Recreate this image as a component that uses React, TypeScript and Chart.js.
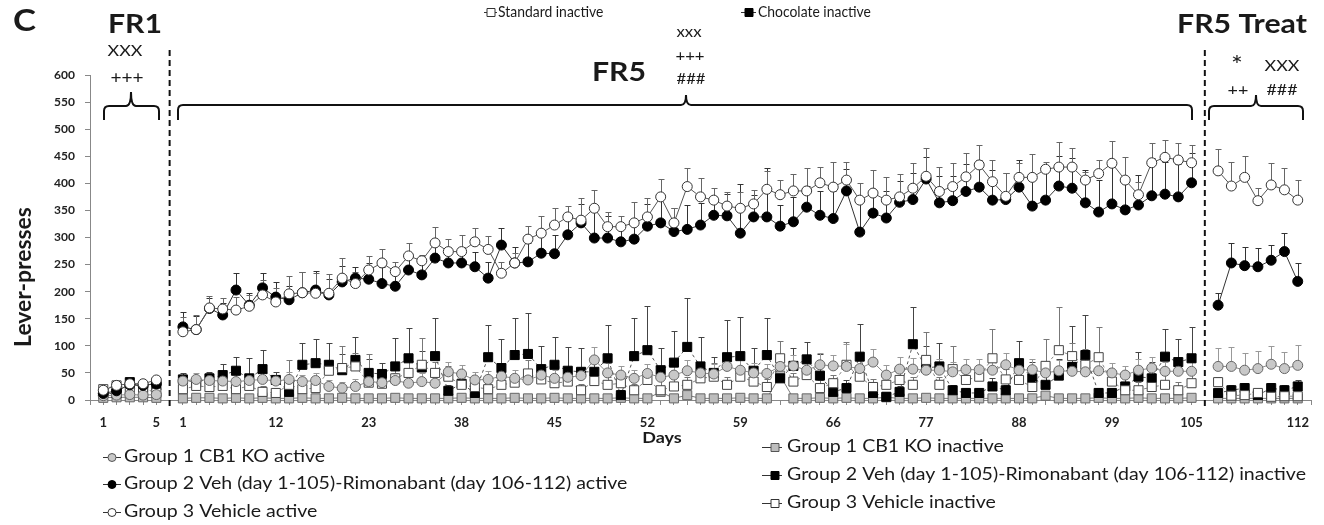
import React, { useEffect, useRef } from "react";
import { Chart, registerables } from "chart.js";

Chart.register(...registerables);

// ---------- tick labels ----------
const fr1Labels = ["1", "", "", "", "5"];
const fr5TickDays = ["1", "12", "23", "38", "45", "52", "59", "66", "77", "88", "99", "105"];
const fr5TickIndex = [0, 7, 14, 21, 28, 35, 42, 49, 56, 63, 70, 76];
const fr5Count = 77;
const treatLabels = ["", "", "", "", "", "", "112"];

// ---------- Group 1 CB1 KO active (grey circles) ----------
const g1ActFr1 = [8, 9, 10, 9, 10];
const g1ActFr5 = [35, 38, 36, 35, 34, 36, 38, 35, 38, 34, 36, 25, 22, 25, 34, 32, 36, 31, 34, 31, 52, 48, 37, 38, 44, 40, 37, 46, 40, 42, 45, 74, 50, 46, 40, 49, 42, 46, 54, 50, 48, 62, 55, 50, 49, 62, 63, 55, 65, 63, 62, 58, 70, 46, 57, 57, 55, 55, 52, 56, 56, 55, 65, 55, 56, 50, 54, 53, 52, 54, 50, 46, 55, 59, 53, 53, 53];
const g1ActTreat = [62, 62, 55, 58, 66, 58, 64];
const g1ActErrFr1 = [4, 4, 4, 4, 4];
const g1ActErrFr5 = [12, 12, 14, 12, 14, 12, 15, 12, 14, 12, 14, 12, 12, 14, 15, 12, 14, 12, 15, 14, 18, 16, 14, 15, 16, 15, 14, 18, 16, 15, 16, 24, 18, 16, 15, 18, 16, 18, 20, 18, 18, 22, 20, 18, 18, 22, 20, 18, 22, 20, 42, 20, 24, 18, 22, 20, 20, 20, 18, 20, 20, 20, 22, 20, 20, 18, 20, 18, 18, 20, 18, 16, 20, 20, 18, 18, 18];
const g1ActErrTreat = [34, 36, 32, 32, 34, 31, 37];

// ---------- Group 2 Veh-Rimonabant active (black circles) ----------
const g2ActFr1 = [12, 17, 28, 27, 30];
const g2ActFr5 = [135, 130, 169, 157, 203, 175, 207, 190, 185, 198, 203, 194, 218, 225, 223, 215, 210, 240, 231, 262, 253, 253, 246, 225, 286, 253, 255, 271, 270, 305, 327, 299, 299, 292, 297, 321, 327, 311, 315, 323, 341, 340, 308, 338, 338, 321, 329, 356, 341, 335, 386, 310, 345, 336, 365, 370, 408, 364, 368, 385, 393, 369, 370, 393, 358, 369, 395, 391, 364, 347, 362, 351, 360, 377, 380, 375, 401];
const g2ActTreat = [175, 253, 248, 246, 258, 274, 219];
const g2ActErrFr1 = [5, 5, 6, 6, 6];
const g2ActErrFr5 = [28, 25, 20, 22, 31, 22, 28, 28, 25, 38, 35, 30, 30, 21, 30, 30, 25, 25, 25, 28, 30, 30, 28, 30, 31, 30, 35, 40, 35, 40, 35, 50, 40, 35, 35, 40, 45, 43, 45, 40, 35, 40, 90, 40, 90, 39, 45, 40, 45, 50, 40, 60, 45, 50, 40, 50, 40, 50, 45, 50, 50, 55, 50, 50, 60, 60, 55, 55, 60, 60, 80, 60, 55, 70, 60, 60, 55];
const g2ActErrTreat = [23, 37, 35, 34, 28, 35, 34];

// ---------- Group 3 Vehicle active (white circles) ----------
const g3ActFr1 = [18, 27, 30, 30, 37];
const g3ActFr5 = [126, 130, 170, 168, 166, 173, 194, 181, 196, 198, 197, 197, 225, 215, 240, 253, 237, 266, 257, 290, 274, 274, 292, 278, 234, 253, 297, 308, 323, 338, 332, 354, 320, 320, 327, 338, 375, 327, 394, 375, 369, 358, 354, 362, 389, 379, 386, 386, 401, 393, 406, 369, 382, 369, 375, 391, 413, 385, 394, 412, 434, 403, 376, 411, 411, 426, 430, 430, 406, 418, 437, 406, 379, 438, 448, 443, 438];
const g3ActTreat = [423, 395, 411, 368, 397, 388, 369];
const g3ActErrFr1 = [5, 5, 5, 5, 5];
const g3ActErrFr5 = [28, 27, 22, 20, 25, 20, 28, 25, 33, 39, 37, 36, 37, 21, 26, 25, 18, 24, 11, 30, 24, 31, 25, 24, 20, 18, 24, 31, 31, 20, 41, 34, 27, 20, 39, 35, 33, 27, 34, 35, 22, 26, 30, 25, 34, 27, 31, 42, 29, 47, 34, 31, 43, 43, 42, 46, 52, 45, 43, 44, 37, 40, 43, 27, 44, 14, 47, 36, 15, 25, 42, 42, 24, 36, 32, 31, 33];
const g3ActErrTreat = [40, 45, 39, 23, 40, 40, 37];

// ---------- Group 1 CB1 KO inactive (grey squares) ----------
const g1InFr1 = [4, 5, 5, 5, 4];
const g1InFr5 = [3, 4, 4, 3, 4, 3, 4, 3, 3, 4, 3, 3, 4, 3, 3, 3, 4, 3, 3, 3, 3, 4, 3, 3, 3, 4, 3, 3, 4, 3, 3, 3, 3, 4, 3, 3, 15, 3, 9, 3, 3, 3, 4, 3, 3, 45, 3, 3, 4, 3, 4, 3, 3, 5, 3, 3, 4, 3, 3, 3, 3, 3, 3, 3, 3, 8, 3, 3, 3, 4, 3, 3, 4, 3, 3, 3, 4];
const g1InTreat = [3, 3, 3, 3, 3, 3, 3];

// ---------- Group 2 Veh-Rimonabant inactive (black squares) ----------
const g2InFr1 = [12, 12, 33, 22, 27];
const g2InFr5 = [38, 32, 40, 46, 54, 40, 57, 37, 15, 65, 68, 65, 55, 74, 50, 48, 62, 77, 60, 81, 17, 30, 13, 79, 59, 83, 85, 57, 65, 54, 52, 52, 77, 9, 81, 92, 55, 69, 98, 62, 50, 79, 81, 54, 83, 40, 63, 75, 45, 15, 22, 80, 13, 6, 15, 103, 59, 62, 18, 13, 13, 25, 18, 68, 40, 28, 45, 61, 83, 13, 13, 25, 43, 40, 80, 70, 77];
const g2InTreat = [13, 18, 22, 9, 22, 18, 25];
const g2InErrFr1 = [4, 4, 6, 5, 6];
const g2InErrFr5 = [12, 10, 12, 20, 26, 38, 35, 15, 10, 40, 44, 40, 30, 43, 25, 20, 52, 56, 30, 70, 10, 15, 10, 59, 53, 68, 75, 42, 52, 44, 44, 30, 61, 10, 70, 81, 41, 59, 90, 54, 30, 69, 72, 42, 68, 39, 33, 32, 40, 10, 15, 60, 10, 8, 10, 68, 40, 43, 10, 10, 10, 15, 10, 41, 30, 20, 30, 76, 74, 10, 10, 15, 46, 30, 51, 42, 58];
const g2InErrTreat = [8, 10, 10, 8, 10, 10, 12];

// ---------- Group 3 Vehicle inactive (white squares) ----------
const g3InFr1 = [20, 27, 20, 22, 13];
const g3InFr5 = [20, 26, 24, 26, 20, 26, 15, 13, 28, 20, 22, 54, 59, 62, 32, 30, 40, 50, 65, 50, 43, 28, 24, 20, 28, 32, 49, 38, 31, 34, 18, 35, 28, 31, 18, 37, 18, 25, 28, 40, 43, 28, 43, 34, 24, 77, 34, 46, 22, 31, 65, 43, 24, 28, 37, 28, 74, 28, 57, 37, 43, 77, 38, 37, 24, 63, 92, 81, 65, 79, 34, 18, 18, 24, 28, 18, 31];
const g3InTreat = [33, 8, 9, 13, 6, 7, 7];
const g3InErrFr1 = [4, 4, 4, 4, 4];
const g3InErrFr5 = [10, 12, 12, 15, 12, 15, 10, 10, 46, 12, 15, 20, 41, 25, 53, 20, 20, 25, 49, 20, 20, 15, 15, 12, 15, 15, 25, 20, 15, 15, 12, 15, 15, 15, 12, 20, 41, 15, 15, 20, 25, 15, 20, 15, 15, 32, 15, 32, 15, 15, 42, 20, 15, 15, 20, 15, 52, 15, 43, 20, 20, 54, 20, 20, 15, 49, 79, 25, 30, 56, 20, 15, 15, 15, 20, 15, 20];
const g3InErrTreat = [9, 6, 6, 6, 6, 6, 6];

// ---------- assembly (gap categories between phases) ----------
function assemble<T>(fr1: T[], fr5: T[], treat: T[], blank: T): T[] {
  return [blank, ...fr1, blank, ...fr5, blank, ...treat, blank];
}
const fr5Labels: string[] = Array.from({ length: fr5Count }, (_, k) => {
  const p = fr5TickIndex.indexOf(k);
  return p >= 0 ? fr5TickDays[p] : "";
});
const labels = assemble(fr1Labels, fr5Labels, treatLabels, "");
const GAP1 = 1 + fr1Labels.length;
const GAP2 = GAP1 + 1 + fr5Count;

const FONT = "Lato";
const SX = 1.12; // horizontal stretch to mimic the wider original face

const errorBarPlugin = {
  id: "errorBars",
  beforeDatasetsDraw(chart: any) {
    const ctx = chart.ctx;
    const xs = chart.scales.x;
    const ys = chart.scales.y;
    chart.data.datasets.forEach((ds: any) => {
      if (!ds.errors) return;
      ctx.save();
      ctx.strokeStyle = ds.errorColor;
      ctx.lineWidth = 1;
      ds.data.forEach((v: number | null, i: number) => {
        const e = ds.errors[i];
        if (v == null || e == null || e <= 0) return;
        const x = Math.round(xs.getPixelForValue(i)) + 0.5;
        const y0 = ys.getPixelForValue(v);
        const y1 = Math.round(ys.getPixelForValue(v + e)) + 0.5;
        ctx.beginPath();
        ctx.moveTo(x, y0);
        ctx.lineTo(x, y1);
        ctx.moveTo(x - 3, y1);
        ctx.lineTo(x + 3, y1);
        ctx.stroke();
      });
      ctx.restore();
    });
  },
};

function txt(ctx: CanvasRenderingContext2D, s: string, x: number, y: number, font: string, align: CanvasTextAlign = "center", sx: number = SX) {
  ctx.save();
  ctx.translate(x, y);
  ctx.scale(sx, 1);
  ctx.font = font;
  ctx.textAlign = align;
  ctx.textBaseline = "middle";
  ctx.fillStyle = "#1a1a1a";
  ctx.fillText(s, 0, 0);
  ctx.restore();
}

function bracket(ctx: CanvasRenderingContext2D, x1: number, x2: number, yTop: number, yEnd: number, px: number, py: number) {
  const r = 5;
  ctx.beginPath();
  ctx.moveTo(x1, yEnd);
  ctx.lineTo(x1, yTop + r);
  ctx.quadraticCurveTo(x1, yTop, x1 + r, yTop);
  ctx.lineTo(px - r, yTop);
  ctx.quadraticCurveTo(px, yTop, px, py);
  ctx.quadraticCurveTo(px, yTop, px + r, yTop);
  ctx.lineTo(x2 - r, yTop);
  ctx.quadraticCurveTo(x2, yTop, x2, yTop + r);
  ctx.lineTo(x2, yEnd);
  ctx.stroke();
}

function marker(ctx: CanvasRenderingContext2D, kind: string, x: number, y: number, fill: string, stroke: string) {
  ctx.fillStyle = fill;
  ctx.strokeStyle = stroke;
  ctx.lineWidth = 1;
  ctx.beginPath();
  if (kind === "circle") ctx.arc(x, y, 4, 0, Math.PI * 2);
  else ctx.rect(x - 4, y - 4, 8, 8);
  ctx.fill();
  ctx.stroke();
}

const annotationPlugin = {
  id: "annotations",
  afterDraw(chart: any) {
    const ctx: CanvasRenderingContext2D = chart.ctx;
    const xs = chart.scales.x;
    ctx.save();
    // dashed phase separators
    ctx.strokeStyle = "#111";
    ctx.lineWidth = 2;
    ctx.setLineDash([6, 4]);
    [GAP1, GAP2].forEach((g) => {
      const x = xs.getPixelForValue(g);
      ctx.beginPath();
      ctx.moveTo(x, 50);
      ctx.lineTo(x, 410);
      ctx.stroke();
    });
    ctx.setLineDash([]);

    // brackets
    ctx.lineWidth = 2;
    ctx.strokeStyle = "#111";
    bracket(ctx, 104, 159, 106, 120, 131, 92);
    bracket(ctx, 178, 1192, 105, 120, 686, 95);
    bracket(ctx, 1209, 1303, 106, 120, 1256, 95);

    // titles & significance marks
    txt(ctx, "C", 13, 21, `bold 31px ${FONT}`, "left");
    txt(ctx, "FR1", 135, 24, `bold 27px ${FONT}`);
    txt(ctx, "XXX", 125, 51, `16px ${FONT}`);
    txt(ctx, "+++", 127, 79, `17px ${FONT}`);
    txt(ctx, "FR5", 619, 72, `bold 27px ${FONT}`);
    txt(ctx, "xxx", 689, 32, `15px ${FONT}`);
    txt(ctx, "+++", 690, 56, `15px ${FONT}`);
    txt(ctx, "###", 691, 79, `15px ${FONT}`);
    txt(ctx, "FR5 Treat", 1242, 24, `bold 27px ${FONT}`);
    txt(ctx, "*", 1237, 66, `25px ${FONT}`);
    txt(ctx, "XXX", 1282, 66, `16px ${FONT}`);
    txt(ctx, "++", 1238, 90, `16px ${FONT}`);
    txt(ctx, "###", 1282, 90, `16px ${FONT}`);

    // axis titles
    txt(ctx, "Days", 662, 438, `bold 15px ${FONT}`, "center", 1.2);
    ctx.save();
    ctx.translate(24, 277);
    ctx.rotate(-Math.PI / 2);
    txt(ctx, "Lever-presses", 0, 0, `bold 22px ${FONT}`, "center", 1.04);
    ctx.restore();

    // top legend
    ctx.strokeStyle = "#333";
    ctx.lineWidth = 1;
    ctx.beginPath(); ctx.moveTo(484, 12.5); ctx.lineTo(497, 12.5); ctx.stroke();
    marker(ctx, "rect", 491, 12.5, "#fff", "#333");
    txt(ctx, "Standard inactive", 498, 12, `16px ${FONT}`, "left", 0.87);
    ctx.beginPath(); ctx.moveTo(741, 12.5); ctx.lineTo(756, 12.5); ctx.stroke();
    marker(ctx, "rect", 749, 12.5, "#000", "#000");
    txt(ctx, "Chocolate inactive", 758, 12, `16px ${FONT}`, "left", 0.87);

    // bottom legend
    const left = [
      { t: "Group 1 CB1 KO active", f: "#c8c8c8", s: "#555", y: 457 },
      { t: "Group 2 Veh (day 1-105)-Rimonabant (day 106-112) active", f: "#000", s: "#000", y: 484 },
      { t: "Group 3 Vehicle active", f: "#fff", s: "#333", y: 512 },
    ];
    left.forEach((it) => {
      ctx.strokeStyle = "#333";
      ctx.lineWidth = 1;
      ctx.beginPath(); ctx.moveTo(103, it.y + 0.5); ctx.lineTo(121, it.y + 0.5); ctx.stroke();
      marker(ctx, "circle", 112, it.y + 0.5, it.f, it.s);
      txt(ctx, it.t, 124, it.y, `17px ${FONT}`, "left", 1.15);
    });
    const right = [
      { t: "Group 1 CB1 KO inactive", f: "#bdbdbd", s: "#555", y: 447 },
      { t: "Group 2 Veh (day 1-105)-Rimonabant (day 106-112) inactive", f: "#000", s: "#000", y: 475 },
      { t: "Group 3 Vehicle inactive", f: "#fff", s: "#333", y: 503 },
    ];
    right.forEach((it) => {
      ctx.strokeStyle = "#333";
      ctx.lineWidth = 1;
      ctx.beginPath(); ctx.moveTo(762, it.y + 0.5); ctx.lineTo(782, it.y + 0.5); ctx.stroke();
      marker(ctx, "rect", 775, it.y + 0.5, it.f, it.s);
      txt(ctx, it.t, 787, it.y, `17px ${FONT}`, "left", 1.15);
    });
    ctx.restore();
  },
};

export default function App() {
  const ref = useRef<HTMLCanvasElement>(null);
  useEffect(() => {
    if (!ref.current) return;
    const common = { clip: false as any, spanGaps: false, borderWidth: 1, pointBorderWidth: 1 };
    const chart = new Chart(ref.current, {
      type: "line",
      data: {
        labels,
        datasets: [
          {
            ...common,
            label: "Group 1 CB1 KO inactive",
            data: assemble(g1InFr1, g1InFr5, g1InTreat, null as any),
            borderColor: "#7a7a7a",
            pointStyle: "rect",
            pointRadius: 6.4,
            pointBackgroundColor: "#bdbdbd",
            pointBorderColor: "#666",
            order: 6,
          },
          {
            ...common,
            label: "Group 2 inactive",
            data: assemble(g2InFr1, g2InFr5, g2InTreat, null as any),
            errors: assemble(g2InErrFr1, g2InErrFr5, g2InErrTreat, null as any),
            errorColor: "#444",
            borderColor: "#555",
            borderDash: [3, 3],
            pointStyle: "rect",
            pointRadius: 6.4,
            pointBackgroundColor: "#000",
            pointBorderColor: "#000",
            order: 5,
          } as any,
          {
            ...common,
            label: "Group 3 inactive",
            data: assemble(g3InFr1, g3InFr5, g3InTreat, null as any),
            errors: assemble(g3InErrFr1, g3InErrFr5, g3InErrTreat, null as any),
            errorColor: "#777",
            borderColor: "#888",
            borderDash: [3, 3],
            pointStyle: "rect",
            pointRadius: 6.4,
            pointBackgroundColor: "#fff",
            pointBorderColor: "#444",
            order: 4,
          } as any,
          {
            ...common,
            label: "Group 1 CB1 KO active",
            data: assemble(g1ActFr1, g1ActFr5, g1ActTreat, null as any),
            errors: assemble(g1ActErrFr1, g1ActErrFr5, g1ActErrTreat, null as any),
            errorColor: "#999",
            borderColor: "#8a8a8a",
            pointStyle: "circle",
            pointRadius: 5,
            pointBackgroundColor: "#c8c8c8",
            pointBorderColor: "#666",
            order: 3,
          } as any,
          {
            ...common,
            label: "Group 2 active",
            data: assemble(g2ActFr1, g2ActFr5, g2ActTreat, null as any),
            errors: assemble(g2ActErrFr1, g2ActErrFr5, g2ActErrTreat, null as any),
            errorColor: "#333",
            borderColor: "#333",
            pointStyle: "circle",
            pointRadius: 5,
            pointBackgroundColor: "#000",
            pointBorderColor: "#000",
            order: 2,
          } as any,
          {
            ...common,
            label: "Group 3 active",
            data: assemble(g3ActFr1, g3ActFr5, g3ActTreat, null as any),
            errors: assemble(g3ActErrFr1, g3ActErrFr5, g3ActErrTreat, null as any),
            errorColor: "#666",
            borderColor: "#555",
            pointStyle: "circle",
            pointRadius: 5,
            pointBackgroundColor: "#fff",
            pointBorderColor: "#333",
            order: 1,
          } as any,
        ],
      },
      options: {
        responsive: false,
        animation: false,
        layout: { padding: { top: 75, right: 13, bottom: 0, left: 0 } },
        plugins: { legend: { display: false }, tooltip: { enabled: false }, title: { display: false } },
        elements: { line: { tension: 0 } },
        scales: {
          x: {
            type: "category",
            offset: false,
            grid: { display: true, drawOnChartArea: false, drawTicks: true, tickLength: 5, color: "#888" },
            border: { display: true, color: "#888", width: 1 },
            ticks: {
              autoSkip: false,
              maxRotation: 0,
              minRotation: 0,
              padding: 10,
              color: "#222",
              font: { family: FONT, size: 13, weight: "bold" },
              callback: (_v: any, i: number) => labels[i],
            },
            afterFit: (s: any) => { s.height = 125; },
          },
          y: {
            min: 0,
            max: 600,
            grid: { display: true, drawOnChartArea: false, drawTicks: true, tickLength: 5, color: "#888" },
            border: { display: true, color: "#888", width: 1 },
            ticks: { stepSize: 50, padding: 10, color: "#222", font: { family: FONT, size: 12, weight: "bold" } },
            afterFit: (s: any) => { s.width = 90; },
          },
        },
      } as any,
      plugins: [errorBarPlugin, annotationPlugin],
    });
    return () => chart.destroy();
  }, []);
  return (
    <div style={{ position: "absolute", left: 0, top: 0, width: 1324, height: 525, background: "#fff" }}>
      <canvas ref={ref} width={1324} height={525} style={{ width: 1324, height: 525, display: "block" }} />
    </div>
  );
}
